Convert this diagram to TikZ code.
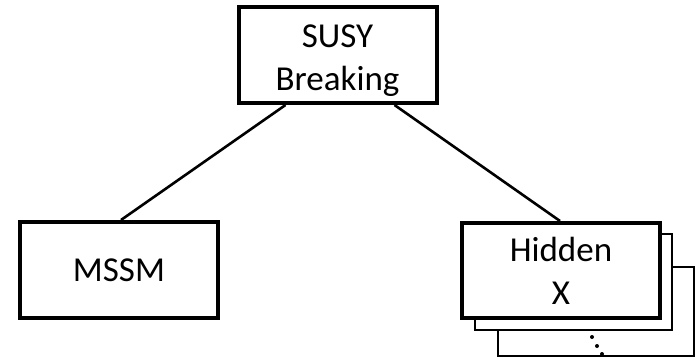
\documentclass[tikz,border=0pt]{standalone}
\usepackage{fontspec}
\setmainfont{Carlito}
\begin{document}
\begin{tikzpicture}[x=1pt,y=-1pt,
  mainbox/.style={draw=black, line width=4pt, fill=white, inner sep=0pt, align=center,
    font=\fontsize{35}{43}\selectfont},
  backbox/.style={draw=black, line width=2pt, fill=white, inner sep=0pt},
  link/.style={draw=black, line width=2.6pt},
  dotmark/.style={circle, fill=black, inner sep=0pt, minimum size=4pt}]
\useasboundingbox (0,0) rectangle (698,361);
% stacked back boxes
\node[backbox, minimum width=196pt, minimum height=89pt] (back2) at (596,311) {};
\node[backbox, minimum width=197pt, minimum height=96pt] (back1) at (573.5,282) {};
% main boxes
\node[mainbox, minimum width=198pt, minimum height=96pt] (susy) at (337.5,55) {\rule{0pt}{34pt}SUSY\\Breaking};
\node[mainbox, minimum width=198pt, minimum height=96pt] (mssm) at (119,270) {MSSM};
\node[mainbox, minimum width=198pt, minimum height=95pt] (hidden) at (561,270.5) {Hidden\\X};
% dots
\node[dotmark] (d1) at (592,337) {};
\node[dotmark] (d2) at (597,346) {};
\node[dotmark] (d3) at (602,354) {};
% connectors
\coordinate (sl) at ([xshift=-52pt]susy.south);
\coordinate (sr) at ([xshift=57pt]susy.south);
\coordinate (mt) at ([xshift=2pt]mssm.north);
\coordinate (ht) at ([xshift=-1pt]hidden.north);
\draw[link] (sl) -- (mt);
\draw[link] (sr) -- (ht);
\end{tikzpicture}
\end{document}
